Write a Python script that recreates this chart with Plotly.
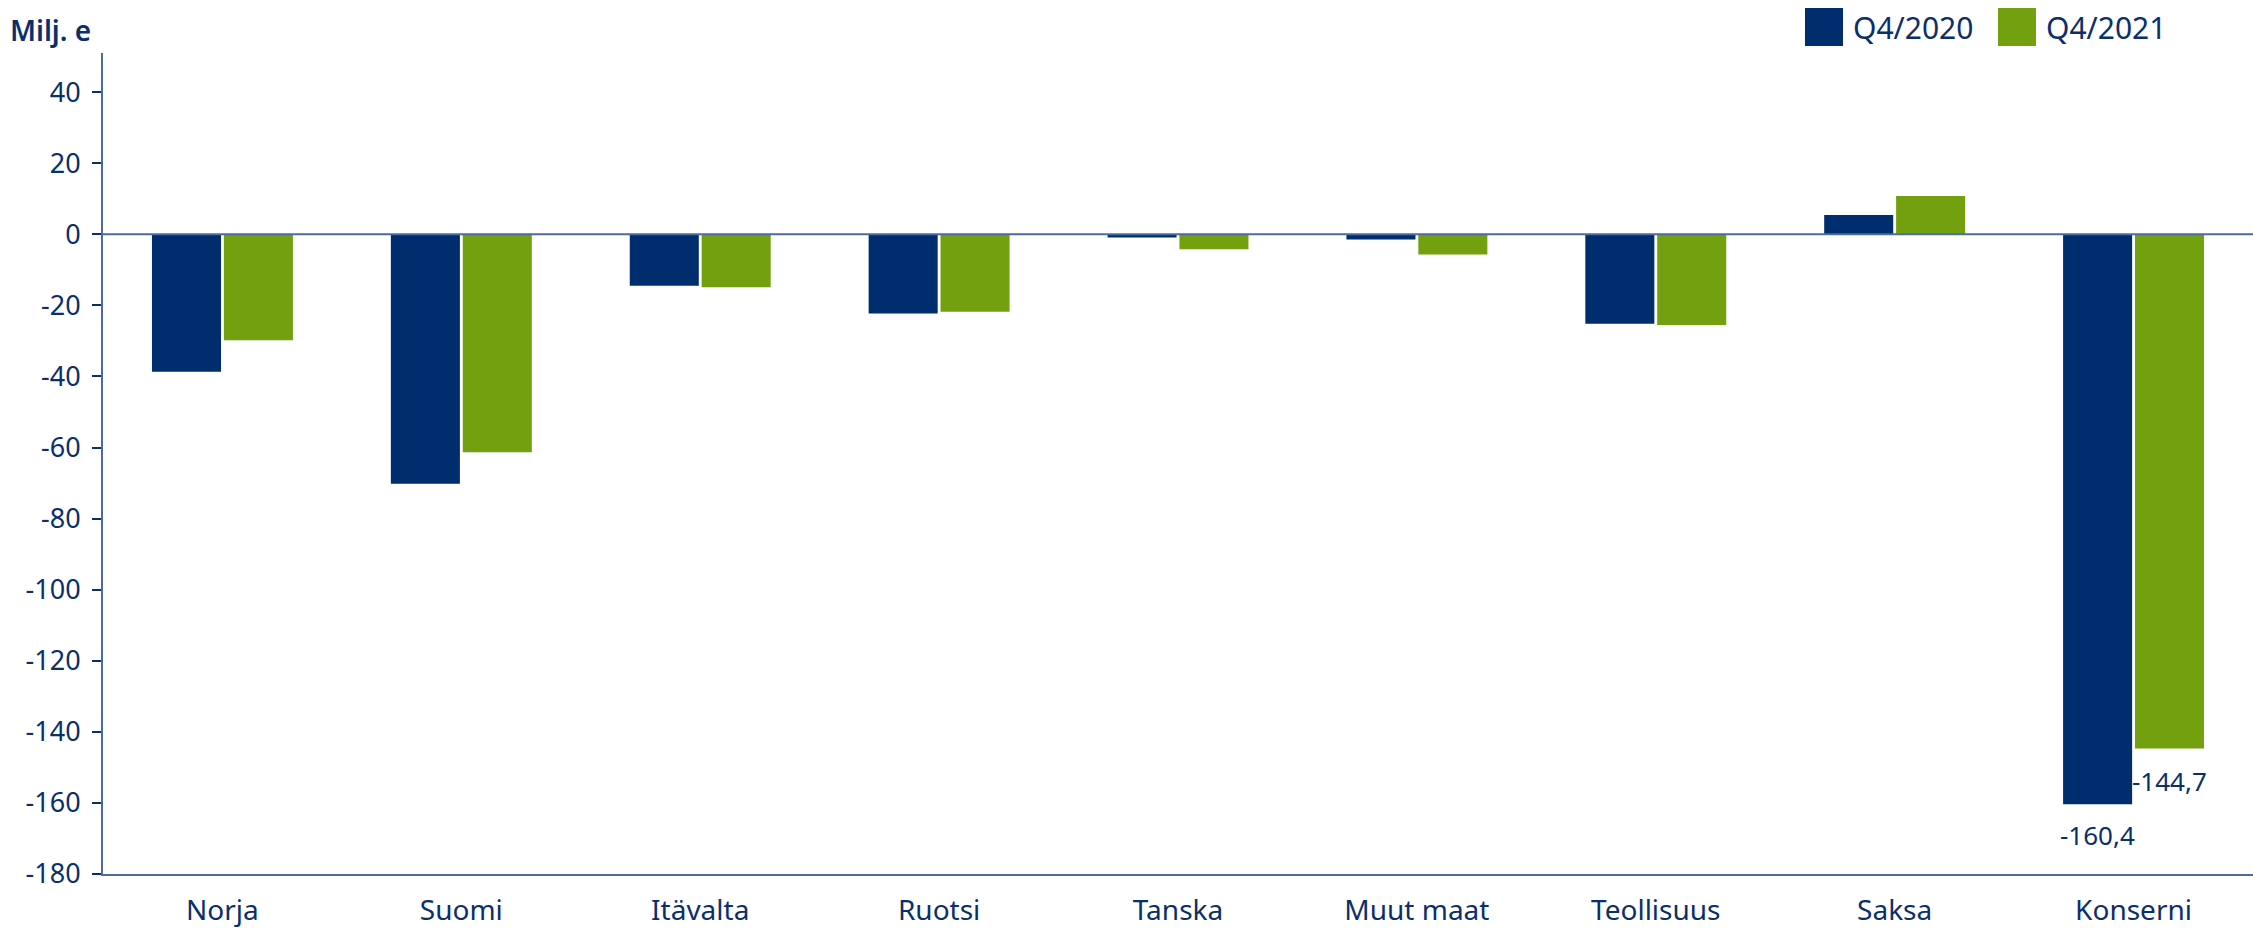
import plotly.graph_objects as go

categories = ["Norja", "Suomi", "Itävalta", "Ruotsi", "Tanska", "Muut maat", "Teollisuus", "Saksa", "Konserni"]
q4_2020 = [-38.7, -70.2, -14.5, -22.3, -0.9, -1.5, -25.2, 5.4, -160.4]
q4_2021 = [-29.8, -61.3, -14.9, -21.8, -4.2, -5.7, -25.5, 10.8, -144.7]
series_names = ["Q4/2020", "Q4/2021"]
value_labels = ["-160,4", "-144,7"]
y_ticks = list(range(-180, 41, 20))

NAVY = "#002d6e"
GREEN = "#72a00f"
TEXT = "#0b2f6b"
AXIS = "#4d6b9c"
FONT = "Noto Sans"

fig = go.Figure()
fig.add_trace(go.Bar(x=categories, y=q4_2020, name=series_names[0], marker=dict(color=NAVY, line=dict(width=0)),
                     width=0.289, offset=-0.295))
fig.add_trace(go.Bar(x=categories, y=q4_2021, name=series_names[1], marker=dict(color=GREEN, line=dict(width=0)),
                     width=0.289, offset=0.006))

# value labels
idx = categories.index("Konserni")
fig.add_annotation(x=idx - 0.15, y=q4_2020[idx], xref="x", yref="y", text=value_labels[0], showarrow=False,
                   yshift=-31, font=dict(family=FONT, size=26, color=TEXT))
fig.add_annotation(x=idx + 0.15, y=q4_2021[idx], xref="x", yref="y", text=value_labels[1], showarrow=False,
                   yshift=-32, font=dict(family=FONT, size=26, color=TEXT))

# zero line
fig.add_shape(type="line", xref="paper", yref="y", x0=0, x1=1, y0=0, y1=0, line=dict(color=AXIS, width=2), layer="above")

W, H = 2253, 931
ml, mr, mt, mb = 103, 0, 53, 57
pw, ph = W - ml - mr, H - mt - mb
def px(x):
    return (x - ml) / pw
def py(y):
    return (H - mb - y) / ph

# y-axis title
fig.add_annotation(xref="paper", yref="paper", x=px(8), y=py(30), xanchor="left", yanchor="middle",
                   text="Milj. e", showarrow=False, font=dict(family=FONT, size=28, color=TEXT, weight=600))

# custom legend
for name, color, sx, tx in [(series_names[0], NAVY, 1805, 1851), (series_names[1], GREEN, 1998, 2044)]:
    fig.add_shape(type="rect", xref="paper", yref="paper", x0=px(sx), x1=px(sx + 38), y0=py(46), y1=py(8),
                  fillcolor=color, line=dict(width=0))
    fig.add_annotation(xref="paper", yref="paper", x=px(tx), y=py(27), xanchor="left", yanchor="middle",
                       text=name, showarrow=False, font=dict(family=FONT, size=30, color=TEXT))

fig.update_layout(
    width=W, height=H,
    margin=dict(l=ml, r=mr, t=mt, b=mb, autoexpand=False),
    plot_bgcolor="white", paper_bgcolor="white",
    showlegend=False,
    barmode="group",
    font=dict(family=FONT, color=TEXT),
    xaxis=dict(range=[-0.5, 8.5], showgrid=False, showline=True, linecolor=AXIS, linewidth=2,
               ticks="", tickfont=dict(family=FONT, size=28, color=TEXT), ticklabelstandoff=10,
               zeroline=False, automargin=False),
    yaxis=dict(range=[-180, 51], tickvals=y_ticks, ticktext=[str(v) for v in y_ticks],
               showgrid=False, zeroline=False, showline=True, linecolor=AXIS, linewidth=2,
               ticks="outside", ticklen=9, tickwidth=2, tickcolor=TEXT, automargin=False,
               tickfont=dict(family=FONT, size=27, color=TEXT), ticklabelstandoff=6),
)

fig.write_html("out.html", config={"displayModeBar": False},
               post_script="document.body.style.margin='0';document.body.style.overflow='hidden';")
